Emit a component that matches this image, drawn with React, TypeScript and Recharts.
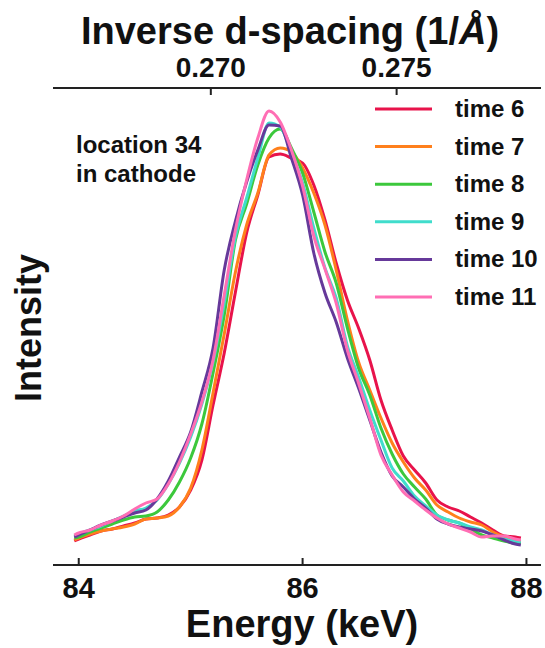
import { LineChart, Line, XAxis, YAxis } from 'recharts';

// energy in keV (bottom axis)
const energy = [
  83.96, 84.0, 84.1, 84.2, 84.3, 84.4, 84.5, 84.6, 84.7, 84.8, 84.9,
  85.0, 85.1, 85.2, 85.3, 85.4, 85.5, 85.6, 85.7, 85.8, 85.9,
  86.0, 86.1, 86.2, 86.3, 86.4, 86.5, 86.6, 86.7, 86.8, 86.9,
  87.0, 87.1, 87.2, 87.3, 87.4, 87.5, 87.6, 87.7, 87.8, 87.9, 87.95,
];

// intensity, arbitrary units
const time6 = [
  24, 26, 30, 34, 36, 39, 42, 46, 47, 50, 58,
  75, 105, 160, 212, 273, 332, 370, 408, 411, 407,
  402, 380, 345, 302, 265, 237, 205, 165, 135, 109,
  95, 82, 65, 58, 54, 48, 42, 35, 29, 28, 27,
];
const time7 = [
  25, 27, 31, 34, 36, 38, 41, 46, 47, 49, 58,
  77, 115, 172, 231, 293, 340, 372, 410, 417, 413,
  397, 372, 340, 295, 245, 203, 175, 147, 122, 103,
  87, 75, 60, 53, 47, 43, 40, 33, 28, 25, 24,
];
const time8 = [
  27, 28, 33, 37, 41, 45, 48, 49, 53, 65, 83,
  107, 141, 192, 250, 325, 361, 400, 427, 436, 417,
  392, 353, 313, 282, 237, 197, 170, 137, 111, 91,
  78, 66, 50, 45, 42, 36, 30, 27, 24, 22, 22,
];
const time9 = [
  29, 31, 35, 39, 44, 49, 54, 57, 65, 81, 102,
  128, 161, 203, 262, 328, 367, 407, 442, 438, 412,
  382, 337, 297, 267, 219, 188, 155, 125, 97, 84,
  69, 59, 50, 45, 42, 38, 35, 30, 26, 24, 23,
];
const time10 = [
  28, 30, 35, 40, 44, 48, 52, 55, 66, 84, 108,
  133, 173, 217, 295, 344, 383, 415, 440, 439, 407,
  370, 312, 272, 243, 207, 177, 145, 113, 89, 78,
  66, 57, 46, 41, 38, 36, 34, 30, 25, 21, 20,
];
const time11 = [
  30, 32, 35, 40, 44, 49, 56, 62, 66, 81, 103,
  131, 163, 205, 270, 335, 385, 427, 454, 443, 415,
  379, 329, 296, 262, 215, 182, 147, 110, 90, 73,
  64, 55, 47, 41, 37, 33, 28, 29, 29, 26, 25,
];

const bottomTicks = [84, 86, 88];
const topTickEnergy = [85.18, 86.84];
const topTickLabels = ['0.270', '0.275'];

const series = [
  { key: 'time6', name: 'time 6', color: '#E8134B', values: time6 },
  { key: 'time7', name: 'time 7', color: '#FF801C', values: time7 },
  { key: 'time8', name: 'time 8', color: '#3CC83C', values: time8 },
  { key: 'time9', name: 'time 9', color: '#40DDCC', values: time9 },
  { key: 'time10', name: 'time 10', color: '#66399A', values: time10 },
  { key: 'time11', name: 'time 11', color: '#FF6EB4', values: time11 },
];

const data = energy.map((e, i) => {
  const row: Record<string, number> = { energy: e };
  series.forEach((s) => { row[s.key] = s.values[i]; });
  return row;
});

const FONT = '"Liberation Sans", Arial, sans-serif';
const INK = '#111';
const FRAME = '#222';

function BottomTick({ x, y, payload }: any) {
  return (
    <g>
      <line x1={x} y1={y} x2={x} y2={y - 7} stroke={FRAME} strokeWidth={2} />
      <text x={x} y={y + 33} textAnchor="middle" fontFamily={FONT} fontWeight="bold" fontSize={29} fill={INK}>
        {payload.value}
      </text>
    </g>
  );
}

function TopTick({ x, y, index }: any) {
  return (
    <g>
      <line x1={x} y1={y} x2={x} y2={y + 7} stroke={FRAME} strokeWidth={2} />
      <text x={x} y={y - 11} textAnchor="middle" fontFamily={FONT} fontWeight="bold" fontSize={28} fill={INK}>
        {topTickLabels[index]}
      </text>
    </g>
  );
}

export default function App() {
  const domain: [number, number] = [83.77, 88.13];
  return (
    <div style={{ position: 'absolute', left: 0, top: 0, width: 545, height: 648, background: '#fff' }}>
      <LineChart width={545} height={648} data={data} margin={{ top: 58, right: 4, bottom: 53, left: 53 }}>
        <XAxis
          dataKey="energy" type="number" domain={domain} allowDataOverflow ticks={bottomTicks}
          height={30} tickSize={0} tickMargin={0} tickLine={false}
          axisLine={{ stroke: FRAME, strokeWidth: 2 }} tick={<BottomTick />}
        />
        <XAxis
          xAxisId="top" orientation="top" dataKey="energy" type="number" domain={domain} allowDataOverflow
          ticks={topTickEnergy} height={30} tickSize={0} tickMargin={0} tickLine={false}
          axisLine={{ stroke: FRAME, strokeWidth: 2 }} tick={<TopTick />}
        />
        <YAxis domain={[0, 477]} allowDataOverflow width={0} tick={false} tickLine={false}
          axisLine={{ stroke: FRAME, strokeWidth: 2 }} />
        <YAxis yAxisId="right" orientation="right" domain={[0, 477]} width={0} tick={false} tickLine={false}
          axisLine={{ stroke: FRAME, strokeWidth: 2 }} />
        {series.map((s) => (
          <Line key={s.key} type="monotone" dataKey={s.key} name={s.name} stroke={s.color}
            strokeWidth={3} dot={false} activeDot={false} isAnimationActive={false} />
        ))}
      </LineChart>

      <svg width={545} height={648} style={{ position: 'absolute', left: 0, top: 0, pointerEvents: 'none' }}>
        <g fontFamily={FONT} fontWeight="bold" fill={INK}>
          <text x={290} y={44} textAnchor="middle" fontSize={38}>
            Inverse d-spacing (1/<tspan fontStyle="italic">Å</tspan>)
          </text>
          <text x={302} y={637} textAnchor="middle" fontSize={38}>Energy (keV)</text>
          <text x={41} y={328} textAnchor="middle" fontSize={36} transform="rotate(-90 41 328)">Intensity</text>
          <text x={76} y={153} fontSize={24}>location 34</text>
          <text x={76} y={182} fontSize={24}>in cathode</text>
          {series.map((s, i) => {
            const rowY = 109 + i * 37.6;
            return (
              <g key={s.key}>
                <line x1={375} x2={432} y1={rowY} y2={rowY} stroke={s.color} strokeWidth={3} />
                <text x={455} y={rowY + 8} fontSize={24}>{s.name}</text>
              </g>
            );
          })}
        </g>
      </svg>
    </div>
  );
}
